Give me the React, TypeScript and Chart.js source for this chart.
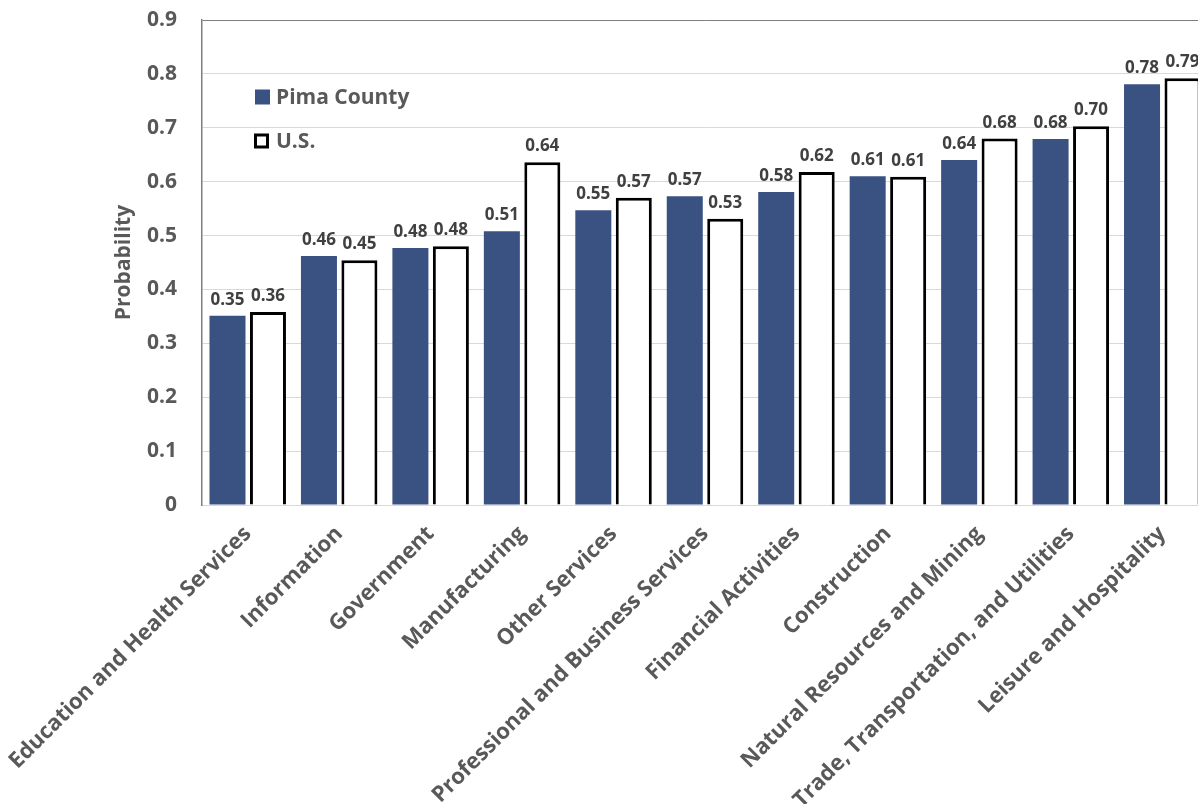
import React, { useEffect, useRef } from "react";
import { Chart, registerables } from "chart.js";

Chart.register(...registerables);

const categories = [
  "Education and Health Services",
  "Information",
  "Government",
  "Manufacturing",
  "Other Services",
  "Professional and Business Services",
  "Financial Activities",
  "Construction",
  "Natural Resources and Mining",
  "Trade, Transportation, and Utilities",
  "Leisure and Hospitality",
];
const pimaCounty = [0.351, 0.462, 0.477, 0.508, 0.547, 0.573, 0.581, 0.61, 0.64, 0.679, 0.781];
const unitedStates = [0.358, 0.454, 0.48, 0.636, 0.57, 0.531, 0.618, 0.609, 0.68, 0.703, 0.792];
const seriesNames = ["Pima County", "U.S."];
const yAxisTitle = "Probability";
const yMin = 0;
const yMax = 0.9;
const yStep = 0.1;

const FONT = "'Open Sans', 'DejaVu Sans', sans-serif";
const GRAY = "#595959";

const dataLabelPlugin = {
  id: "dataLabels",
  afterDatasetsDraw(chart: any) {
    const ctx = chart.ctx;
    ctx.save();
    ctx.font = `bold 17px ${FONT}`;
    ctx.fillStyle = "#404040";
    ctx.textAlign = "center";
    ctx.textBaseline = "alphabetic";
    chart.data.datasets.forEach((ds: any, di: number) => {
      const meta = chart.getDatasetMeta(di);
      meta.data.forEach((bar: any, i: number) => {
        const v = ds.data[i] as number;
        ctx.fillText(v.toFixed(2), bar.x, bar.y - 11);
      });
    });
    ctx.restore();
  },
};

const legendPlugin = {
  id: "insideLegend",
  afterDraw(chart: any) {
    const ctx = chart.ctx;
    ctx.save();
    const x0 = 254;
    const rows = [97, 141];
    chart.data.datasets.forEach((ds: any, di: number) => {
      const cy = rows[di];
      const size = 15;
      if (ds.borderWidth && ds.backgroundColor === "#ffffff") {
        ctx.fillStyle = "#ffffff";
        ctx.fillRect(x0, cy - size / 2, size, size);
        ctx.strokeStyle = "#000000";
        ctx.lineWidth = 3;
        ctx.strokeRect(x0 + 1.5, cy - size / 2 + 1.5, size - 3, size - 3);
      } else {
        ctx.fillStyle = ds.backgroundColor;
        ctx.fillRect(x0 + 1, cy - size / 2, size, size);
      }
      ctx.font = `bold 21px ${FONT}`;
      ctx.fillStyle = GRAY;
      ctx.textAlign = "left";
      ctx.textBaseline = "middle";
      ctx.fillText(ds.label, 276, cy + 1);
    });
    ctx.restore();
  },
};

export default function App() {
  const canvasRef = useRef<HTMLCanvasElement | null>(null);

  useEffect(() => {
    document.body.style.margin = "0";
    document.body.style.overflow = "hidden";
    const canvas = canvasRef.current;
    if (!canvas) return;
    const chart = new Chart(canvas, {
      type: "bar",
      data: {
        labels: categories,
        datasets: [
          {
            label: seriesNames[0],
            data: pimaCounty,
            backgroundColor: "#3A5282",
            borderWidth: 0,
            categoryPercentage: 0.885,
            barPercentage: 0.89,
          },
          {
            label: seriesNames[1],
            data: unitedStates,
            backgroundColor: "#ffffff",
            borderColor: "#000000",
            borderWidth: 3,
            categoryPercentage: 0.885,
            barPercentage: 0.89,
          },
        ],
      },
      options: {
        animation: false,
        responsive: false,
        maintainAspectRatio: false,
        layout: { padding: { top: 20, left: 0, right: 0, bottom: 0 } },
        plugins: {
          legend: { display: false },
          tooltip: { enabled: false },
        },
        scales: {
          x: {
            grid: { display: false, drawTicks: false },
            border: { display: true, color: "#d9d9d9", width: 1 },
            ticks: {
              autoSkip: false,
              maxRotation: 45,
              minRotation: 45,
              padding: 16,
              color: GRAY,
              font: { family: FONT, size: 22, weight: "bold" },
            },
            afterFit(scale: any) {
              scale.height = 299;
              scale.paddingLeft = 0;
              scale.paddingRight = 0;
            },
          },
          y: {
            min: yMin,
            max: yMax,
            grid: {
              drawTicks: false,
              color: (c: any) => (c.tick && Math.abs(c.tick.value - yMax) < 1e-6 ? "#7f7f7f" : "#d9d9d9"),
              lineWidth: 1,
            },
            border: { display: true, color: "#7f7f7f", width: 1.5 },
            ticks: {
              stepSize: yStep,
              padding: 25,
              color: GRAY,
              font: { family: FONT, size: 21, weight: "bold" },
              callback: (v: any) => (Number(v) === 0 ? "0" : Number(v).toFixed(1)),
            },
            title: {
              display: true,
              text: yAxisTitle,
              color: GRAY,
              font: { family: FONT, size: 21, weight: "bold" },
              padding: { top: 111, bottom: 0 },
            },
            afterFit(scale: any) {
              scale.width = 202;
              scale.paddingTop = 0;
              scale.paddingBottom = 0;
            },
          },
        },
      },
      plugins: [dataLabelPlugin, legendPlugin],
    } as any);
    return () => chart.destroy();
  }, []);

  return (
    <div style={{ position: "fixed", left: 0, top: 0, width: 1208, height: 804, overflow: "hidden" }}>
      <canvas ref={canvasRef} width={1208} height={804} style={{ display: "block", width: 1208, height: 804 }} />
    </div>
  );
}
